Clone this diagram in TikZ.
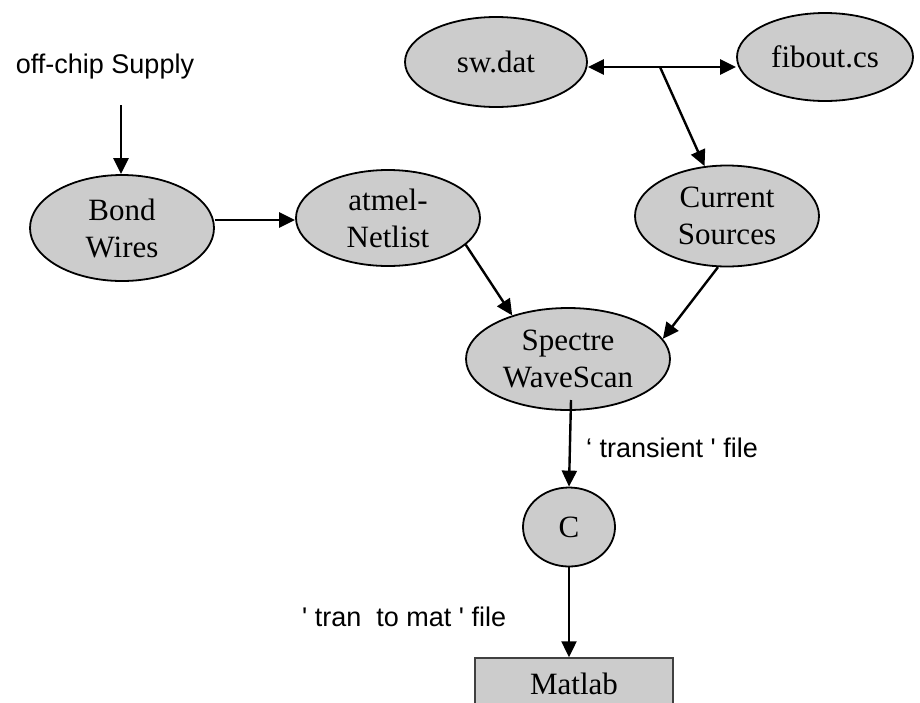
\documentclass[tikz,border=0pt]{standalone}
\usepackage{fontspec}
\setmainfont{Liberation Serif}
\newfontfamily\arialf{Liberation Sans}[Ligatures=TeXOff]
\usetikzlibrary{shapes.geometric,arrows.meta,calc}
\definecolor{nodegray}{RGB}{204,204,204}
\begin{document}
\begin{tikzpicture}[x=1pt,y=-1pt,
  ell/.style={ellipse,draw=black,line width=1.8pt,fill=nodegray,inner sep=0pt,align=center,font=\fontsize{31}{37}\selectfont},
  boxnode/.style={rectangle,draw=black!75,line width=1.5pt,fill=nodegray,inner sep=0pt,font=\fontsize{31}{37}\selectfont},
  lbl/.style={font=\arialf\fontsize{27}{32}\selectfont,inner sep=0pt},
  arr/.style={line width=2.4pt,-{Triangle[length=16pt,width=15pt]}},
  darr/.style={line width=2.4pt,{Triangle[length=16pt,width=15pt]}-{Triangle[length=16pt,width=15pt]}},
]
\clip (0,0) rectangle (920,702);
\fill[white] (0,0) rectangle (920,702);

% nodes
\node[lbl] (supply) at (105,67) {off-chip Supply};
\coordinate (s0) at (121,105);
\node[ell,minimum width=184pt,minimum height=106pt] (bond) at (122,228) {Bond\\Wires};
\node[ell,minimum width=184pt,minimum height=96pt] (atmel) at (388,218) {atmel-\\Netlist};
\node[ell,minimum width=182pt,minimum height=90pt] (sw) at (496,62) {sw.dat};
\node[ell,minimum width=176pt,minimum height=88pt] (fib) at (825,57) {fibout.cs};
\node[ell,minimum width=184pt,minimum height=101pt] (cur) at (727,216) {Current\\Sources};
\node[ell,minimum width=204pt,minimum height=102pt] (spec) at (568,359) {Spectre\\WaveScan};
\node[ell,minimum width=92pt,minimum height=79pt] (c) at (569,527) {C};
\node[boxnode,minimum width=198pt,minimum height=60pt] (matlab) at (574,688) {\raisebox{8pt}{Matlab}};
\node[lbl,anchor=west] (tlab) at (586,448) {‘ transient ' file};
\node[lbl,anchor=west] (mlab) at (302,617) {' tran\ \ to mat ' file};

\coordinate (br) at (660,67);

% connectors
\draw[arr] (s0) -- (s0 |- bond.north);
\draw[arr] (bond.east |- 0,220) -- (atmel.west |- 0,220);
\draw[darr] (sw.east |- br) -- (fib.west |- br);
\draw[arr] (br) -- (cur);
\draw[arr] (atmel.-19) -- (spec.142);
\draw[arr] (cur.-100) -- (spec.12.6);
\draw[arr] ($(spec.center)+(3,41)$) -- (c.north);
\draw[arr] (c.south) -- (c.south |- matlab.north);
\end{tikzpicture}
\end{document}
